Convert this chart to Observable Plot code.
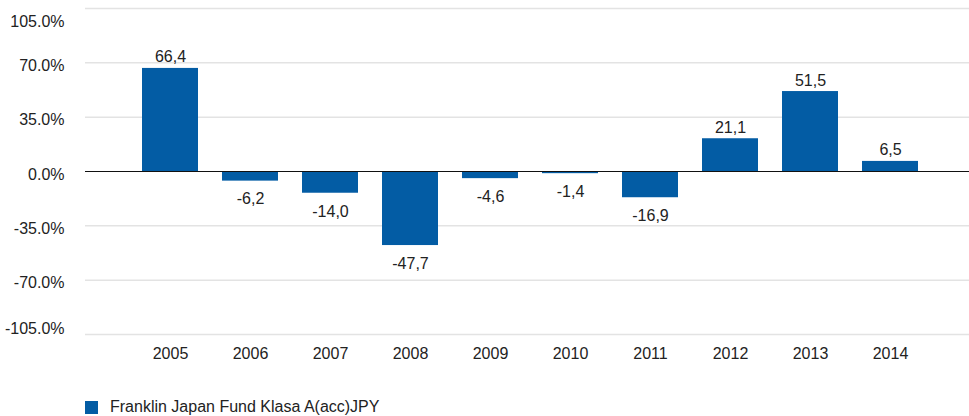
<!DOCTYPE html>
<html>
<head>
<meta charset="utf-8">
<script src="https://cdn.jsdelivr.net/npm/d3@7"></script>
<script src="https://cdn.jsdelivr.net/npm/@observablehq/plot@0.6"></script>
<style>
  html, body { margin: 0; padding: 0; background: #fff; }
  body { width: 969px; height: 416px; position: relative; overflow: hidden;
         font-family: "Liberation Sans", Arial, sans-serif; }
  #chart { position: absolute; left: 0; top: 0; }
  #legend { position: absolute; left: 85px; top: 398px; display: flex; align-items: flex-start;
            font-size: 16px; color: #222; line-height: 18px; white-space: nowrap; }
  #legend .sw { width: 13px; height: 13px; background: #035ca4; margin-top: 3px; margin-right: 12px; }
</style>
</head>
<body>
<div id="chart"></div>
<div id="legend"><span class="sw"></span><span id="legend-label"></span></div>
<script>
const seriesName = "Franklin Japan Fund Klasa A(acc)JPY";
const years = ["2005","2006","2007","2008","2009","2010","2011","2012","2013","2014"];
const values = [66.4, -6.2, -14.0, -47.7, -4.6, -1.4, -16.9, 21.1, 51.5, 6.5];
const yTicks = [-105, -70, -35, 0, 35, 70, 105];
const barColor = "#035ca4";

document.getElementById("legend-label").textContent = seriesName;

const data = years.map((year, i) => ({year, value: values[i]}));
const pos = data.filter(d => d.value >= 0);
const neg = data.filter(d => d.value < 0);
const fmtVal = v => v.toFixed(1).replace(".", ",");
const fmtTick = v => v.toFixed(1) + "%";
const midTicks = yTicks.filter(t => Math.abs(t) < 105);
const topTicks = yTicks.filter(t => t === 105);
const botTicks = yTicks.filter(t => t === -105);
const fs = 16;

const chart = Plot.plot({
  width: 969,
  height: 370,
  marginLeft: 85,
  marginRight: 0,
  marginTop: 8,
  marginBottom: 36,
  style: {fontFamily: '"Liberation Sans", Arial, sans-serif', fontSize: fs + "px", color: "#222", background: "#fff"},
  x: {domain: years, range: [137, 922], paddingInner: 0.305, paddingOuter: 0, align: 0.5, label: null},
  y: {domain: [-105, 105], label: null},
  marks: [
    Plot.ruleY(yTicks.filter(t => t !== 0), {stroke: "#e3e3e3", strokeWidth: 1.5}),
    Plot.barY(data, {x: "year", y: "value", fill: barColor, inset: 0}),
    Plot.ruleY([0], {stroke: "#111", strokeWidth: 1}),
    Plot.text(pos, {x: "year", y: "value", text: d => fmtVal(d.value), lineAnchor: "bottom", dy: -6, fontSize: fs, fill: "#222"}),
    Plot.text(neg, {x: "year", y: "value", text: d => fmtVal(d.value), lineAnchor: "top", dy: 12, fontSize: fs, fill: "#222"}),
    Plot.axisX({tickSize: 0, tickPadding: 13, fontSize: fs, label: null}),
    Plot.axisY({ticks: midTicks, tickFormat: fmtTick, tickSize: 0, tickPadding: 21, dy: 3, fontSize: fs, label: null}),
    Plot.axisY({ticks: topTicks, tickFormat: fmtTick, tickSize: 0, tickPadding: 21, dy: 13, fontSize: fs, label: null}),
    Plot.axisY({ticks: botTicks, tickFormat: fmtTick, tickSize: 0, tickPadding: 21, dy: -6, fontSize: fs, label: null})
  ]
});
document.getElementById("chart").appendChild(chart);
</script>
</body>
</html>
